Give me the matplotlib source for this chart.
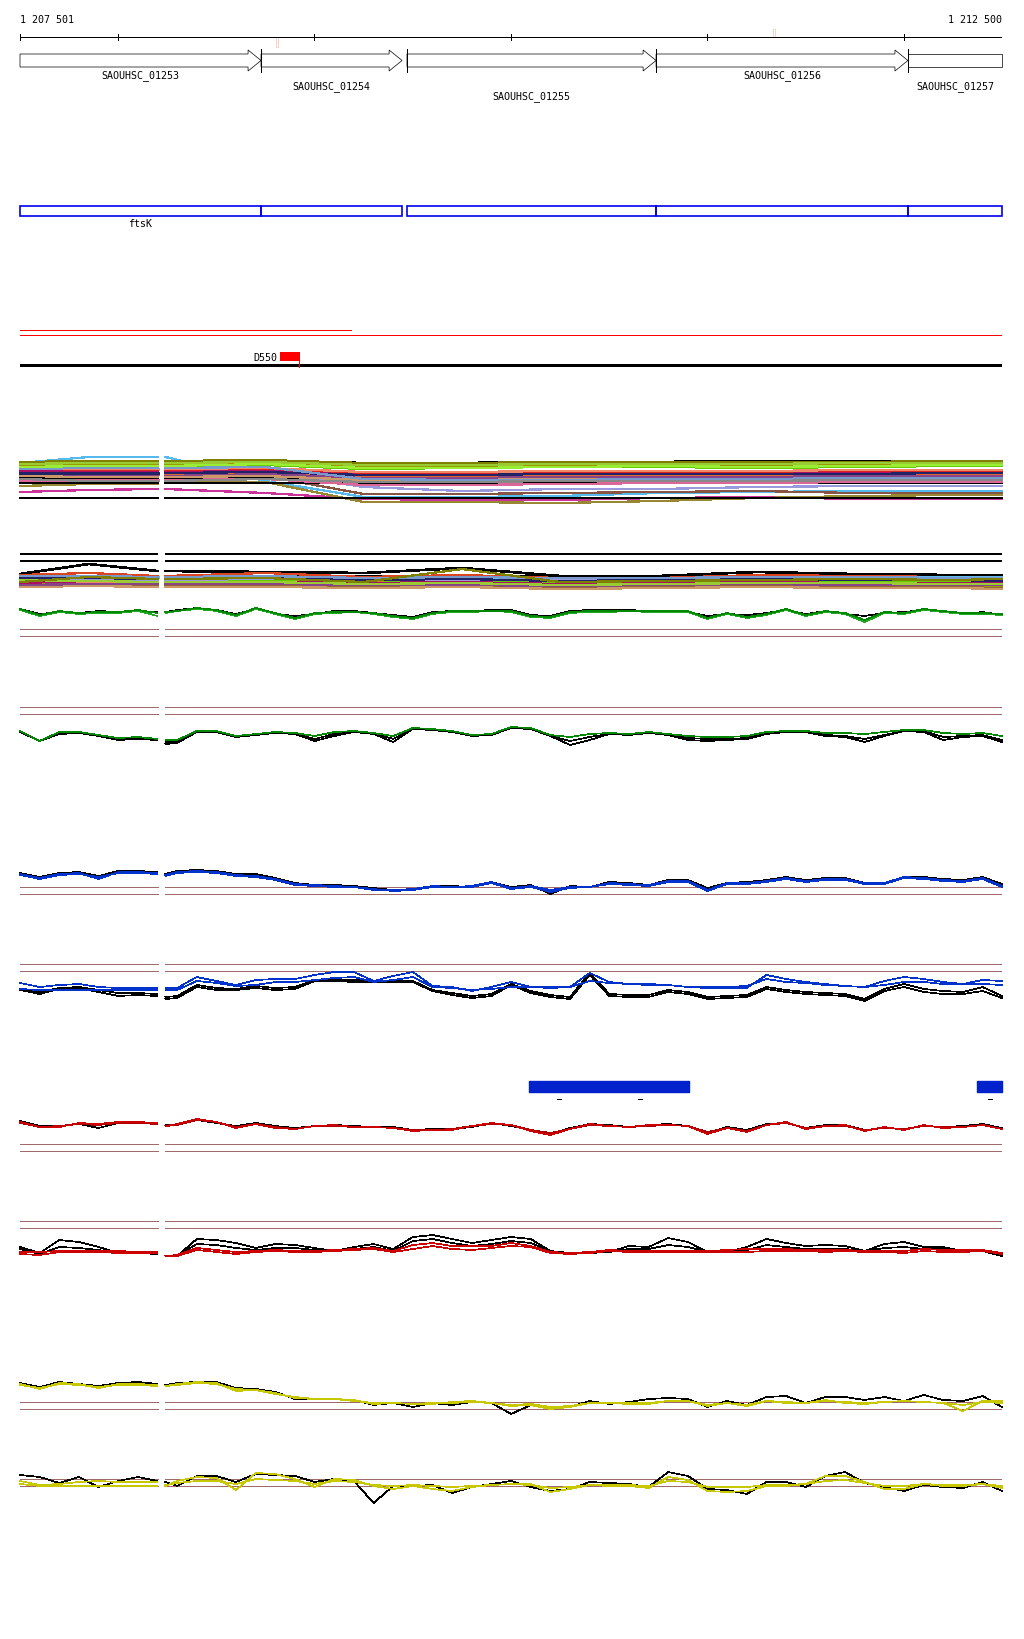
# -*- coding: utf-8 -*-
# genome browser view 1 207 501 - 1 212 500, tracks drawn with matplotlib

import matplotlib
matplotlib.use("Agg")
import matplotlib.pyplot as plt
from matplotlib.patches import Polygon, Rectangle

plt.rcParams['font.family'] = ['DejaVu Sans Mono']
plt.rcParams['lines.antialiased'] = False

W, H = 1024, 1640
X0, X1 = 20, 1002
START, END = 1207501, 1212500
FS = 7.2
THIN = 0.5

###############################   DATA   ###############################

ruler_ticks = [1207501, 1208000, 1209000, 1210000, 1211000, 1212000, 1212500]
ruler_marks = [1208804, 1211334]

gene_start = [1207501, 1208728, 1209471, 1210739, 1212021]
gene_end = [1208728, 1209446, 1210739, 1212021, 1212500]
gene_names = ['SAOUHSC_01253', 'SAOUHSC_01254', 'SAOUHSC_01255',
              'SAOUHSC_01256', 'SAOUHSC_01257']
gene_row = [0, 1, 2, 0, 1]

red_short_end = 1209186
d550_start, d550_end = 1208825, 1208927

blue_bar_start = [1210092, 1212373]
blue_bar_end = [1210907, 1212500]
blue_bar_dash = [1210245, 1210657, 1212439]

# sample offsets (bp from START); gap between 700 and 740
off_left = [0, 100, 200, 300, 400, 500, 600, 700]
off_right = [740] + list(range(800, 5000, 100)) + [4999]
coarse_left = [0, 350, 700]
coarse_right = [740, 1250, 1750, 2250, 2750, 3250, 3750, 4250, 4750, 4999]

# multi colour track 1
multi1_colors = ['#55BBEE', '#66AADD', '#CC3399', '#998833', '#9999DD', '#885544',
                 '#000000', '#000000', '#000000', '#000000',
                 '#999900', '#808000', '#66CC00', '#99CC33', '#DD2222', '#E06633',
                 '#EE8866', '#AA1166', '#884488', '#222266', '#CC9966', '#7799CC',
                 '#DD6699', '#99EE33', '#888888']
multi1_lines = [
    [14, 8, 8, 8, 32, 48, 48, 47, 44, 43, 42, 42, 42],
    [34, 30, 29, 29, 30, 28, 28, 28, 28, 28, 27, 26, 26],
    [43, 41, 40, 40, 44, 50, 51, 51, 49, 48, 50, 50, 50],
    [37, 35, 35, 32, 33, 53, 53, 54, 52, 49, 47, 46, 46],
    [20, 20, 20, 20, 23, 38, 42, 40, 40, 38, 37, 37, 37],
    [24, 24, 24, 24, 27, 45, 45, 44, 43, 42, 44, 44, 44],
    [29, 29, 29, 29, 29, 29, 29, 29, 29, 29, 29, 29, 29],
    [34, 34, 34, 34, 34, 34, 34, 34, 34, 34, 34, 34, 34],
    [49, 49, 49, 49, 49, 49, 49, 49, 49, 49, 49, 49, 49],
    [14, 13, 13, 13, 12, 14, 14, 13, 13, 12, 12, 12, 12],
    [17, 16, 16, 16, 14, 17, 17, 16, 15, 16, 15, 14, 14],
    [13, 12, 12, 12, 11, 14, 14, 13, 13, 13, 13, 12, 12],
    [19, 18, 18, 18, 16, 20, 19, 18, 18, 19, 18, 17, 17],
    [15, 14, 14, 14, 13, 16, 16, 15, 15, 15, 14, 14, 14],
    [23, 22, 22, 22, 21, 24, 24, 23, 23, 23, 23, 22, 22],
    [25, 25, 25, 25, 24, 28, 28, 27, 27, 27, 26, 26, 26],
    [21, 20, 20, 20, 19, 23, 23, 22, 22, 22, 21, 21, 21],
    [22, 23, 23, 23, 22, 26, 26, 25, 25, 25, 24, 24, 24],
    [26, 27, 27, 27, 25, 29, 29, 28, 28, 28, 27, 27, 27],
    [24, 24, 24, 24, 23, 26, 26, 25, 25, 25, 25, 24, 24],
    [27, 28, 28, 28, 27, 31, 31, 30, 30, 30, 29, 29, 29],
    [20, 19, 19, 19, 18, 30, 31, 31, 30, 30, 29, 29, 29],
    [31, 31, 31, 31, 30, 36, 36, 35, 34, 34, 33, 33, 33],
    [18, 17, 17, 17, 15, 19, 19, 18, 17, 18, 17, 16, 16],
    [30, 32, 32, 32, 30, 33, 33, 32, 32, 32, 31, 31, 31],
]

# multi colour track 2
multi2_colors = ['#000000', '#000000', '#999900', '#E06633', '#DD4422', '#66BBEE',
                 '#66CC00', '#EE8866', '#9999DD', '#AA1166', '#996633', '#CC9966',
                 '#222266', '#884488', '#7799CC', '#99CC33', '#808000']
multi2_lines = [
    [25, 15, 22, 22, 23, 24, 19, 27, 27, 23, 25, 26, 26],
    [27, 27, 27, 27, 27, 27, 27, 27, 27, 27, 27, 27, 27],
    [35, 33, 33, 33, 33, 36, 34, 38, 37, 35, 38, 36, 37],
    [30, 30, 31, 31, 32, 33, 32, 34, 33, 32, 33, 33, 34],
    [26, 24, 27, 27, 24, 28, 26, 29, 29, 26, 27, 28, 28],
    [28, 28, 28, 28, 29, 30, 29, 30, 30, 29, 28, 28, 28],
    [32, 31, 32, 32, 32, 34, 32, 34, 33, 32, 33, 32, 33],
    [33, 34, 34, 34, 34, 35, 35, 36, 35, 34, 35, 35, 35],
    [31, 30, 31, 31, 30, 31, 31, 31, 31, 30, 30, 31, 31],
    [34, 32, 33, 33, 33, 34, 33, 35, 34, 33, 34, 34, 34],
    [37, 36, 37, 37, 37, 38, 37, 39, 38, 37, 38, 38, 39],
    [38, 37, 38, 38, 38, 39, 38, 40, 39, 38, 39, 39, 40],
    [29, 29, 30, 30, 29, 31, 30, 32, 31, 30, 31, 31, 32],
    [36, 35, 35, 35, 35, 36, 36, 37, 36, 35, 36, 36, 36],
    [27, 27, 28, 28, 27, 29, 28, 29, 29, 28, 28, 29, 29],
    [31, 32, 33, 33, 33, 35, 34, 36, 35, 34, 34, 35, 35],
    [33, 28, 30, 30, 29, 33, 20, 33, 32, 31, 30, 31, 30],
]

# green track 1 (depth below panel top)
green1_black = [10, 15, 13, 14, 12, 13, 12, 13,
                13, 11, 9, 11, 15, 10, 15, 17, 15, 12, 12, 14, 16, 18, 13, 12, 12, 11, 11, 16, 17, 12,
                11, 11, 11, 12, 12, 13, 17, 15, 16, 14, 11, 15, 12, 15, 17, 14, 13, 11, 12, 15, 13, 16]
green1_a = [10, 16, 12, 14, 13, 13, 11, 14,
            13, 12, 9, 11, 16, 9, 14, 19, 14, 13, 13, 14, 17, 19, 14, 12, 12, 12, 12, 17, 18, 13,
            12, 12, 12, 12, 12, 12, 19, 14, 18, 15, 10, 16, 12, 14, 21, 13, 14, 10, 12, 14, 14, 15]
green1_b = [11, 17, 13, 15, 14, 14, 12, 17,
            14, 12, 10, 12, 17, 10, 15, 20, 15, 14, 13, 15, 18, 20, 15, 13, 13, 12, 13, 18, 19, 14,
            13, 13, 12, 13, 13, 13, 20, 15, 19, 16, 11, 17, 13, 15, 23, 14, 15, 11, 13, 15, 15, 16]

# green track 2
green2_black1 = [33, 42, 35, 34, 37, 41, 40, 41,
                 45, 44, 33, 33, 38, 36, 34, 35, 42, 37, 33, 35, 43, 30, 31, 33, 37, 36, 29, 30, 37, 46,
                 41, 35, 36, 34, 36, 41, 42, 41, 40, 35, 33, 33, 37, 38, 43, 37, 32, 33, 41, 38, 37, 43]
green2_black2 = [33, 42, 34, 33, 36, 40, 39, 41,
                 43, 43, 33, 33, 37, 36, 34, 35, 40, 35, 33, 34, 40, 30, 31, 33, 37, 36, 29, 30, 37, 42,
                 38, 35, 35, 34, 36, 39, 40, 40, 39, 34, 33, 33, 36, 37, 40, 36, 32, 32, 38, 37, 36, 41]
green2_green = [32, 42, 33, 33, 36, 39, 38, 40,
                41, 41, 32, 32, 37, 35, 33, 34, 37, 33, 32, 34, 37, 29, 30, 32, 36, 35, 28, 29, 36, 38,
                35, 34, 35, 33, 35, 37, 38, 38, 37, 33, 32, 32, 34, 34, 35, 33, 31, 31, 34, 35, 34, 37]

# blue track 1
blue1_black = [14, 18, 14, 13, 17, 12, 12, 13,
               15, 12, 11, 12, 15, 15, 19, 24, 26, 26, 27, 29, 31, 30, 27, 27, 28, 23, 28, 26, 35, 27,
               28, 23, 24, 26, 21, 21, 29, 24, 23, 21, 18, 21, 19, 19, 24, 25, 18, 18, 20, 21, 18, 25]
blue1_a = [15, 19, 15, 14, 20, 13, 13, 14,
           16, 13, 12, 13, 16, 17, 20, 25, 26, 27, 28, 31, 31, 30, 27, 28, 27, 23, 29, 27, 31, 28,
           28, 24, 25, 26, 22, 22, 31, 24, 24, 22, 19, 22, 20, 20, 24, 24, 18, 19, 21, 22, 19, 27]
blue1_b = [16, 20, 16, 15, 18, 14, 14, 15,
           17, 14, 13, 14, 17, 18, 21, 26, 27, 28, 28, 30, 32, 31, 28, 28, 28, 24, 30, 28, 33, 29,
           28, 25, 26, 27, 23, 23, 32, 25, 25, 23, 20, 23, 21, 21, 25, 25, 19, 20, 22, 23, 20, 28]

# blue track 2
blue2_black1 = [41, 45, 40, 39, 43, 47, 46, 47,
                50, 49, 38, 41, 41, 39, 41, 40, 32, 32, 33, 33, 33, 33, 42, 46, 49, 47, 36, 44, 48, 50,
                26, 47, 48, 48, 43, 45, 50, 49, 48, 40, 43, 45, 46, 47, 52, 42, 38, 43, 45, 45, 42, 49]
blue2_black2 = [40, 43, 39, 38, 41, 44, 44, 45,
                48, 47, 36, 39, 40, 37, 39, 38, 31, 31, 31, 32, 32, 32, 41, 44, 47, 45, 35, 42, 46, 48,
                24, 45, 46, 46, 41, 43, 48, 47, 46, 38, 41, 43, 44, 45, 50, 40, 35, 40, 42, 43, 38, 47]
blue2_upper = [34, 38, 36, 35, 38, 39, 39, 39,
               39, 39, 28, 32, 36, 31, 30, 30, 26, 23, 23, 32, 27, 23, 37, 38, 42, 38, 33, 38, 39, 38,
               24, 33, 35, 35, 36, 38, 39, 39, 39, 26, 30, 33, 35, 37, 38, 32, 28, 30, 33, 35, 31, 32]
blue2_lower = [40, 41, 41, 41, 41, 41, 41, 41,
               41, 41, 32, 34, 37, 36, 33, 33, 31, 29, 28, 33, 31, 28, 38, 39, 41, 40, 38, 38, 38, 38,
               32, 34, 35, 36, 36, 38, 38, 38, 37, 30, 33, 34, 36, 37, 38, 36, 33, 33, 35, 35, 35, 36]

# red track 1
red1_black = [22, 27, 27, 25, 29, 24, 23, 25,
              26, 26, 21, 24, 27, 24, 27, 29, 27, 26, 27, 28, 28, 31, 30, 30, 28, 24, 27, 31, 35, 29,
              25, 26, 28, 26, 25, 27, 34, 28, 31, 25, 24, 29, 26, 26, 31, 29, 30, 27, 28, 27, 25, 29]
red1_a = [23, 28, 28, 24, 25, 23, 23, 24,
          27, 25, 20, 23, 29, 25, 29, 30, 27, 26, 28, 28, 29, 32, 31, 31, 27, 24, 26, 32, 36, 30,
          25, 27, 28, 26, 26, 27, 35, 29, 33, 26, 23, 30, 27, 26, 32, 28, 31, 26, 29, 28, 26, 30]
red1_b = [24, 28, 27, 25, 26, 24, 24, 25,
          27, 26, 21, 23, 28, 25, 28, 30, 27, 27, 28, 28, 29, 31, 31, 30, 27, 25, 26, 31, 34, 30,
          26, 27, 28, 27, 26, 27, 33, 29, 32, 26, 24, 29, 27, 27, 31, 29, 30, 27, 28, 28, 26, 30]

# red track 2
red2_black_up = [48, 54, 41, 43, 48, 54, 54, 55,
                 57, 57, 40, 41, 44, 49, 45, 46, 49, 52, 48, 45, 50, 38, 36, 40, 44, 41, 38, 40, 52, 54,
                 54, 53, 47, 48, 39, 43, 53, 53, 48, 40, 44, 47, 46, 47, 52, 45, 43, 48, 48, 52, 52, 57]
red2_black_mid = [50, 55, 48, 49, 51, 54, 54, 55,
                  57, 57, 45, 46, 49, 51, 49, 49, 51, 52, 50, 48, 52, 42, 40, 44, 47, 45, 42, 44, 52, 55,
                  54, 53, 50, 50, 46, 48, 53, 53, 51, 46, 48, 50, 50, 50, 52, 49, 48, 50, 50, 52, 52, 56]
red2_upper = [53, 53, 52, 52, 52, 52, 53, 53,
              57, 56, 49, 51, 53, 52, 51, 52, 52, 51, 50, 49, 52, 46, 44, 47, 47, 47, 44, 47, 53, 54,
              53, 51, 52, 52, 52, 52, 52, 51, 50, 50, 50, 51, 51, 51, 52, 52, 52, 50, 51, 51, 51, 54]
red2_lower = [55, 56, 53, 53, 53, 54, 54, 54,
              57, 57, 51, 53, 55, 53, 52, 53, 53, 52, 51, 50, 53, 50, 47, 50, 51, 49, 47, 48, 54, 55,
              54, 52, 53, 53, 53, 53, 53, 53, 53, 52, 52, 52, 53, 52, 53, 53, 54, 52, 53, 53, 52, 55]

# yellow track 1
yel1_black = [24, 28, 23, 25, 27, 24, 23, 25,
              26, 24, 23, 23, 29, 30, 33, 40, 40, 40, 41, 46, 44, 48, 44, 46, 43, 44, 55, 46, 50, 48,
              42, 45, 43, 40, 39, 40, 48, 42, 46, 38, 37, 44, 38, 38, 41, 38, 42, 36, 41, 42, 37, 48]
yel1_a = [25, 30, 24, 25, 29, 25, 25, 26,
          27, 25, 23, 24, 32, 31, 35, 38, 40, 40, 41, 45, 44, 45, 45, 43, 42, 44, 47, 46, 50, 48,
          44, 44, 45, 45, 42, 42, 47, 44, 47, 42, 44, 44, 41, 44, 45, 43, 42, 43, 44, 52, 42, 42]
yel1_b = [26, 29, 25, 26, 28, 26, 26, 27,
          27, 26, 24, 25, 30, 31, 34, 39, 40, 40, 42, 44, 44, 45, 44, 44, 43, 44, 46, 45, 48, 47,
          44, 44, 44, 44, 42, 42, 46, 44, 46, 42, 43, 44, 42, 43, 44, 43, 42, 43, 44, 46, 43, 44]

# yellow track 2
yel2_black = [16, 18, 24, 18, 28, 22, 18, 22,
              23, 27, 17, 17, 23, 15, 16, 17, 23, 20, 22, 44, 27, 27, 26, 34, 28, 25, 22, 28, 32, 30,
              23, 24, 25, 28, 13, 17, 30, 31, 35, 23, 23, 28, 17, 13, 24, 28, 32, 26, 28, 29, 23, 32]
yel2_a = [22, 26, 25, 23, 22, 23, 23, 23,
          27, 22, 18, 19, 31, 14, 15, 20, 28, 20, 21, 27, 30, 27, 30, 32, 28, 26, 25, 25, 33, 30,
          26, 27, 27, 29, 18, 21, 32, 33, 32, 27, 27, 25, 17, 17, 23, 30, 30, 25, 27, 27, 25, 29]
yel2_b = [25, 27, 27, 27, 27, 27, 27, 27,
          26, 24, 22, 22, 25, 20, 21, 22, 25, 22, 23, 26, 27, 26, 27, 28, 27, 26, 25, 26, 29, 28,
          26, 26, 26, 27, 22, 23, 28, 28, 28, 26, 26, 25, 22, 21, 24, 27, 27, 25, 26, 26, 25, 27]

BROWN = '#A06A6A'
GREEN = '#008800'
GREEN2 = '#22AA22'
BLUE = '#0033CC'
RED = '#CC0000'
YELLOW = '#C8C800'

###############################   HELPERS   ###############################

fig = plt.figure(figsize=(W / 100, H / 100), dpi=100)
fig.patch.set_facecolor('white')


def panel(top, height):
    ax = fig.add_axes([X0 / W, 1 - (top + height) / H, (X1 - X0) / W, height / H])
    ax.set_xlim(START, END)
    ax.set_ylim(height, 0)
    ax.axis('off')
    return ax


def split_line(ax, left, right, vals, color, lw=THIN):
    n = len(left)
    ax.plot([START + o for o in left], vals[:n], color=color, lw=lw, clip_on=False)
    ax.plot([START + o for o in right], vals[n:], color=color, lw=lw, clip_on=False)


def ref_lines(ax, levels, color=BROWN, lw=THIN):
    for y in levels:
        ax.hlines(y, START, START + 705, color=color, lw=lw)
        ax.hlines(y, START + 738, END, color=color, lw=lw)


def trace_panel(top, height, refs, series):
    ax = panel(top, height)
    ref_lines(ax, refs)
    for vals, color in series:
        split_line(ax, off_left, off_right, vals, color)
    return ax


###############################   RULER + GENES   ###############################

ax = panel(0, 110)
ax.text(START, 20, '1 207 501', fontsize=FS, ha='left', va='center')
ax.text(END, 20, '1 212 500', fontsize=FS, ha='right', va='center')
ax.hlines(38, START, END, color='black', lw=THIN)
ax.vlines(ruler_ticks, 35, 41, color='black', lw=THIN)
ax.add_patch(Rectangle((ruler_marks[0], 38), 10, 10, fill=False, ec='#F4C4AC', lw=THIN))
ax.add_patch(Rectangle((ruler_marks[1], 30), 10, 8, fill=False, ec='#F4C4AC', lw=THIN))

head = 66
for i, (s, e, name) in enumerate(zip(gene_start, gene_end, gene_names)):
    if e < END:
        pts = [(s, 55), (e - head, 55), (e - head, 51), (e, 61.5),
               (e - head, 72), (e - head, 68), (s, 68)]
    else:
        pts = [(s, 55), (e, 55), (e, 68), (s, 68)]
    ax.add_patch(Polygon(pts, closed=True, fill=False, ec='black', lw=THIN, clip_on=False))
    if i > 0:
        ax.vlines(s, 50, 73, color='black', lw=THIN)
    ax.text((s + e) / 2, 76 + gene_row[i] * 10.3, name, fontsize=FS, ha='center', va='center')

# blue boxes
ax = panel(200, 30)
for s, e in zip(gene_start, gene_end):
    ax.add_patch(Rectangle((s, 7), e - s, 10, fill=False, ec='#0000EE', lw=1.2, clip_on=False))
ax.text((gene_start[0] + gene_end[0]) / 2, 24, 'ftsK', fontsize=FS, ha='center', va='center')

# red lines and D550
ax = panel(320, 55)
ax.hlines(11, START, red_short_end, color='#FF0000', lw=THIN)
ax.hlines(16, START, END, color='#FF0000', lw=THIN)
ax.hlines(46, START, END, color='black', lw=0.9)
ax.add_patch(Rectangle((d550_start, 33), d550_end - d550_start, 9, color='#FF0000', lw=0))
ax.vlines(d550_end - 5, 42, 48, color='#FF0000', lw=THIN)
ax.text(d550_start - 15, 38, 'D550', fontsize=FS, ha='right', va='center')

###############################   MULTI COLOUR TRACKS   ###############################

ax = panel(450, 60)
for vals, c in zip(multi1_lines, multi1_colors):
    split_line(ax, coarse_left, coarse_right, vals, c, lw=0.9 if c != '#000000' else 1.2)

ax = panel(550, 45)
ref_lines(ax, [5, 12], color='black', lw=1.1)
for vals, c in zip(multi2_lines, multi2_colors):
    split_line(ax, coarse_left, coarse_right, vals, c, lw=0.9 if c != '#000000' else 1.2)

###############################   LINE TRACKS   ###############################

trace_panel(600, 40, [30, 37], [(green1_black, 'black'), (green1_b, GREEN2), (green1_a, GREEN)])
trace_panel(700, 50, [8, 15], [(green2_black1, 'black'), (green2_black2, 'black'), (green2_green, GREEN)])
trace_panel(860, 40, [28, 35], [(blue1_black, 'black'), (blue1_b, BLUE), (blue1_a, BLUE)])
trace_panel(950, 60, [15, 22], [(blue2_black1, 'black'), (blue2_black2, 'black'),
                                (blue2_lower, BLUE), (blue2_upper, BLUE)])

# blue region bars
ax = panel(1075, 30)
ax.broken_barh([(s, e - s) for s, e in zip(blue_bar_start, blue_bar_end)], (7, 11),
               color='#0022CC', clip_on=False)
ax.hlines([25] * len(blue_bar_dash), [d - 10 for d in blue_bar_dash],
          [d + 10 for d in blue_bar_dash], color='black', lw=THIN)

trace_panel(1100, 60, [45, 52], [(red1_black, 'black'), (red1_b, '#AA0000'), (red1_a, RED)])
trace_panel(1200, 70, [22, 29], [(red2_black_up, 'black'), (red2_black_mid, 'black'),
                                 (red2_upper, RED), (red2_lower, RED)])
trace_panel(1360, 65, [43, 50], [(yel1_black, 'black'), (yel1_b, YELLOW), (yel1_a, YELLOW)])
trace_panel(1460, 55, [20, 27], [(yel2_black, 'black'), (yel2_b, YELLOW), (yel2_a, YELLOW)])

fig.savefig('out.png', dpi=100, facecolor='white')
